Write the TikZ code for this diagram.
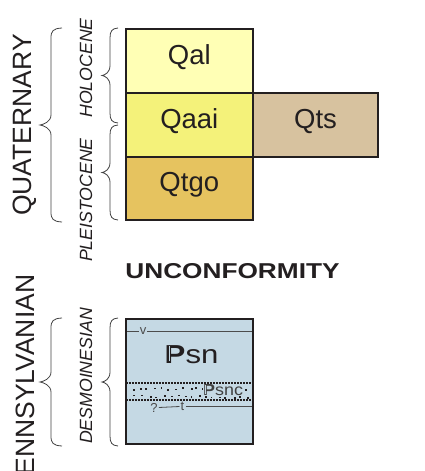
\documentclass[tikz,border=0pt]{standalone}
\usepackage{fontspec}
\setmainfont{Liberation Sans}
\definecolor{cQal}{HTML}{FFFFB5}
\definecolor{cQaai}{HTML}{F4F27A}
\definecolor{cQtgo}{HTML}{E6C35F}
\definecolor{cQts}{HTML}{D7C29F}
\definecolor{cPsn}{HTML}{C5D9E4}
\definecolor{edge}{HTML}{231F20}
% Pennsylvanian "P" with a hollow stem
\newcommand\pennP{\mbox{\rlap{\bfseries P}\kern0.122em\textcolor{cPsn}{\rule[0.065em]{0.05em}{0.59em}}\kern-0.172em\phantom{\bfseries P}}}
\newcommand\gbrace[4]{% xe, xt, y1, y2
  \draw[bracestyle] (#1,#3) .. controls ({(#1+#2)/2+2},{#3+0.5}) and ({(#1+#2)/2},{#3+3}) .. ({(#1+#2)/2},{#3+10})
   -- ({(#1+#2)/2},{(#3+#4)/2-10}) .. controls ({(#1+#2)/2},{(#3+#4)/2-3}) and ({#2+3},{(#3+#4)/2-0.5}) .. (#2,{(#3+#4)/2})
   .. controls ({#2+3},{(#3+#4)/2+0.5}) and ({(#1+#2)/2},{(#3+#4)/2+3}) .. ({(#1+#2)/2},{(#3+#4)/2+10})
   -- ({(#1+#2)/2},{#4-10}) .. controls ({(#1+#2)/2},{#4-3}) and ({(#1+#2)/2+2},{#4-0.5}) .. (#1,#4);}
\begin{document}
\begin{tikzpicture}[x=1pt,y=-1pt,
  unitbox/.style={draw=edge, line width=1.8pt, inner sep=0pt, outer sep=0pt,
    font=\fontsize{27.5}{30}\selectfont, text=edge, text height=0.72em, text depth=0pt},
  bracestyle/.style={draw=black!75, line width=0.8pt},
  bigtxt/.style={rotate=90, font=\fontsize{26.5}{30}\selectfont, text=edge, inner sep=0pt},
  epochtxt/.style={rotate=90, font=\fontsize{17.7}{20}\selectfont\itshape, text=edge, inner sep=0pt},
  smalltxt/.style={font=\fontsize{13}{14}\selectfont, text=black!70, inner sep=1pt},
  thinline/.style={draw=black!70, line width=0.8pt},
  dotedge/.style={draw=edge, line width=1.6pt, dash pattern=on 1.8pt off 1.2pt},
  sanddot/.style={fill=edge}
]
\useasboundingbox (0,0) rectangle (424,471);

% Quaternary units
\node[unitbox, fill=cQal, minimum width=126.7pt, minimum height=63.4pt] (qal) at (189.3,61) {Qal};
\node[unitbox, fill=cQaai, minimum width=126.7pt, minimum height=64pt] (qaai) at (189.3,124.7) {Qaai};
\node[unitbox, fill=cQtgo, minimum width=126.7pt, minimum height=63.3pt] (qtgo) at (189.3,188.3) {Qtgo};
\node[unitbox, fill=cQts, minimum width=125.6pt, minimum height=64pt] (qts) at (315.5,124.7) {Qts};

% Labels
\node[bigtxt] (quat) at (25,125) {QUATERNARY};
\node[epochtxt] (holo) at (86,68) {HOLOCENE};
\node[epochtxt] (pleis) at (86,200) {PLEISTOCENE};
\node[bigtxt] (penns) at (25,384) {PENNSYLVANIAN};
\node[epochtxt] (desm) at (86,376) {DESMOINESIAN};

\gbrace{62}{40}{28}{222}
\gbrace{118}{102}{28}{123}
\gbrace{118}{102}{125}{220}
\gbrace{62}{40}{318}{446}
\gbrace{118}{102}{318}{446}

\node[font=\fontsize{21.5}{24}\selectfont\bfseries, text=edge, inner sep=0pt, text height=0.72em, text depth=0pt] (unconf) at (232.5,274.5) {\scalebox{1.22}[1]{UNCONFORMITY}};

% Pennsylvanian unit
\node[fill=cPsn, minimum width=126.7pt, minimum height=125pt, inner sep=0pt, outer sep=0pt] (penn) at (189.3,381.8) {};
\node[fill=cPsn, minimum width=126.7pt, minimum height=17pt, inner sep=0pt, outer sep=0pt] (band) at (189.3,391.5) {};
\pgfmathsetseed{5}
\foreach \x in {131,138,...,246}{
  \pgfmathsetmacro\dx{\x+rnd*4}
  \pgfmathsetmacro\dy{386.5+rnd*2.5}
  \fill[sanddot] (\dx,\dy) rectangle ++(1.8,1.8);
  \pgfmathsetmacro\ex{\x+2+rnd*4}
  \pgfmathsetmacro\ey{394.5+rnd*2.5}
  \fill[sanddot] (\ex,\ey) rectangle ++(1.8,1.8);
}
\draw[dotedge] (band.north west) -- (band.north east);
\draw[dotedge] (band.south west) -- (band.south east);
\node[anchor=base west, fill=cPsn, inner sep=0pt, font=\fontsize{16}{17}\selectfont, text=black!75] (psnc) at (203,395.5) {\scalebox{1.12}[1]{\pennP snc}};

\node[anchor=base west, font=\fontsize{26}{30}\selectfont, text=edge, inner sep=0pt] (psn) at (164.5,363) {\scalebox{1.2}[1]{\pennP sn}};

\node[smalltxt] (v) at (143,331.5) {v};
\draw[thinline] (penn.west |- v) -- (v.west);
\draw[thinline] (v.east) -- (penn.east |- v);

\node[smalltxt] (q) at (154,407.5) {?};
\node[smalltxt] (t) at (182.5,406.5) {t};
\draw[thinline] (q.east) -- (t.west);
\draw[thinline] (t.east) -- (penn.east |- t);

\draw[edge, line width=1.8pt] (penn.north west) rectangle (penn.south east);
\end{tikzpicture}
\end{document}
